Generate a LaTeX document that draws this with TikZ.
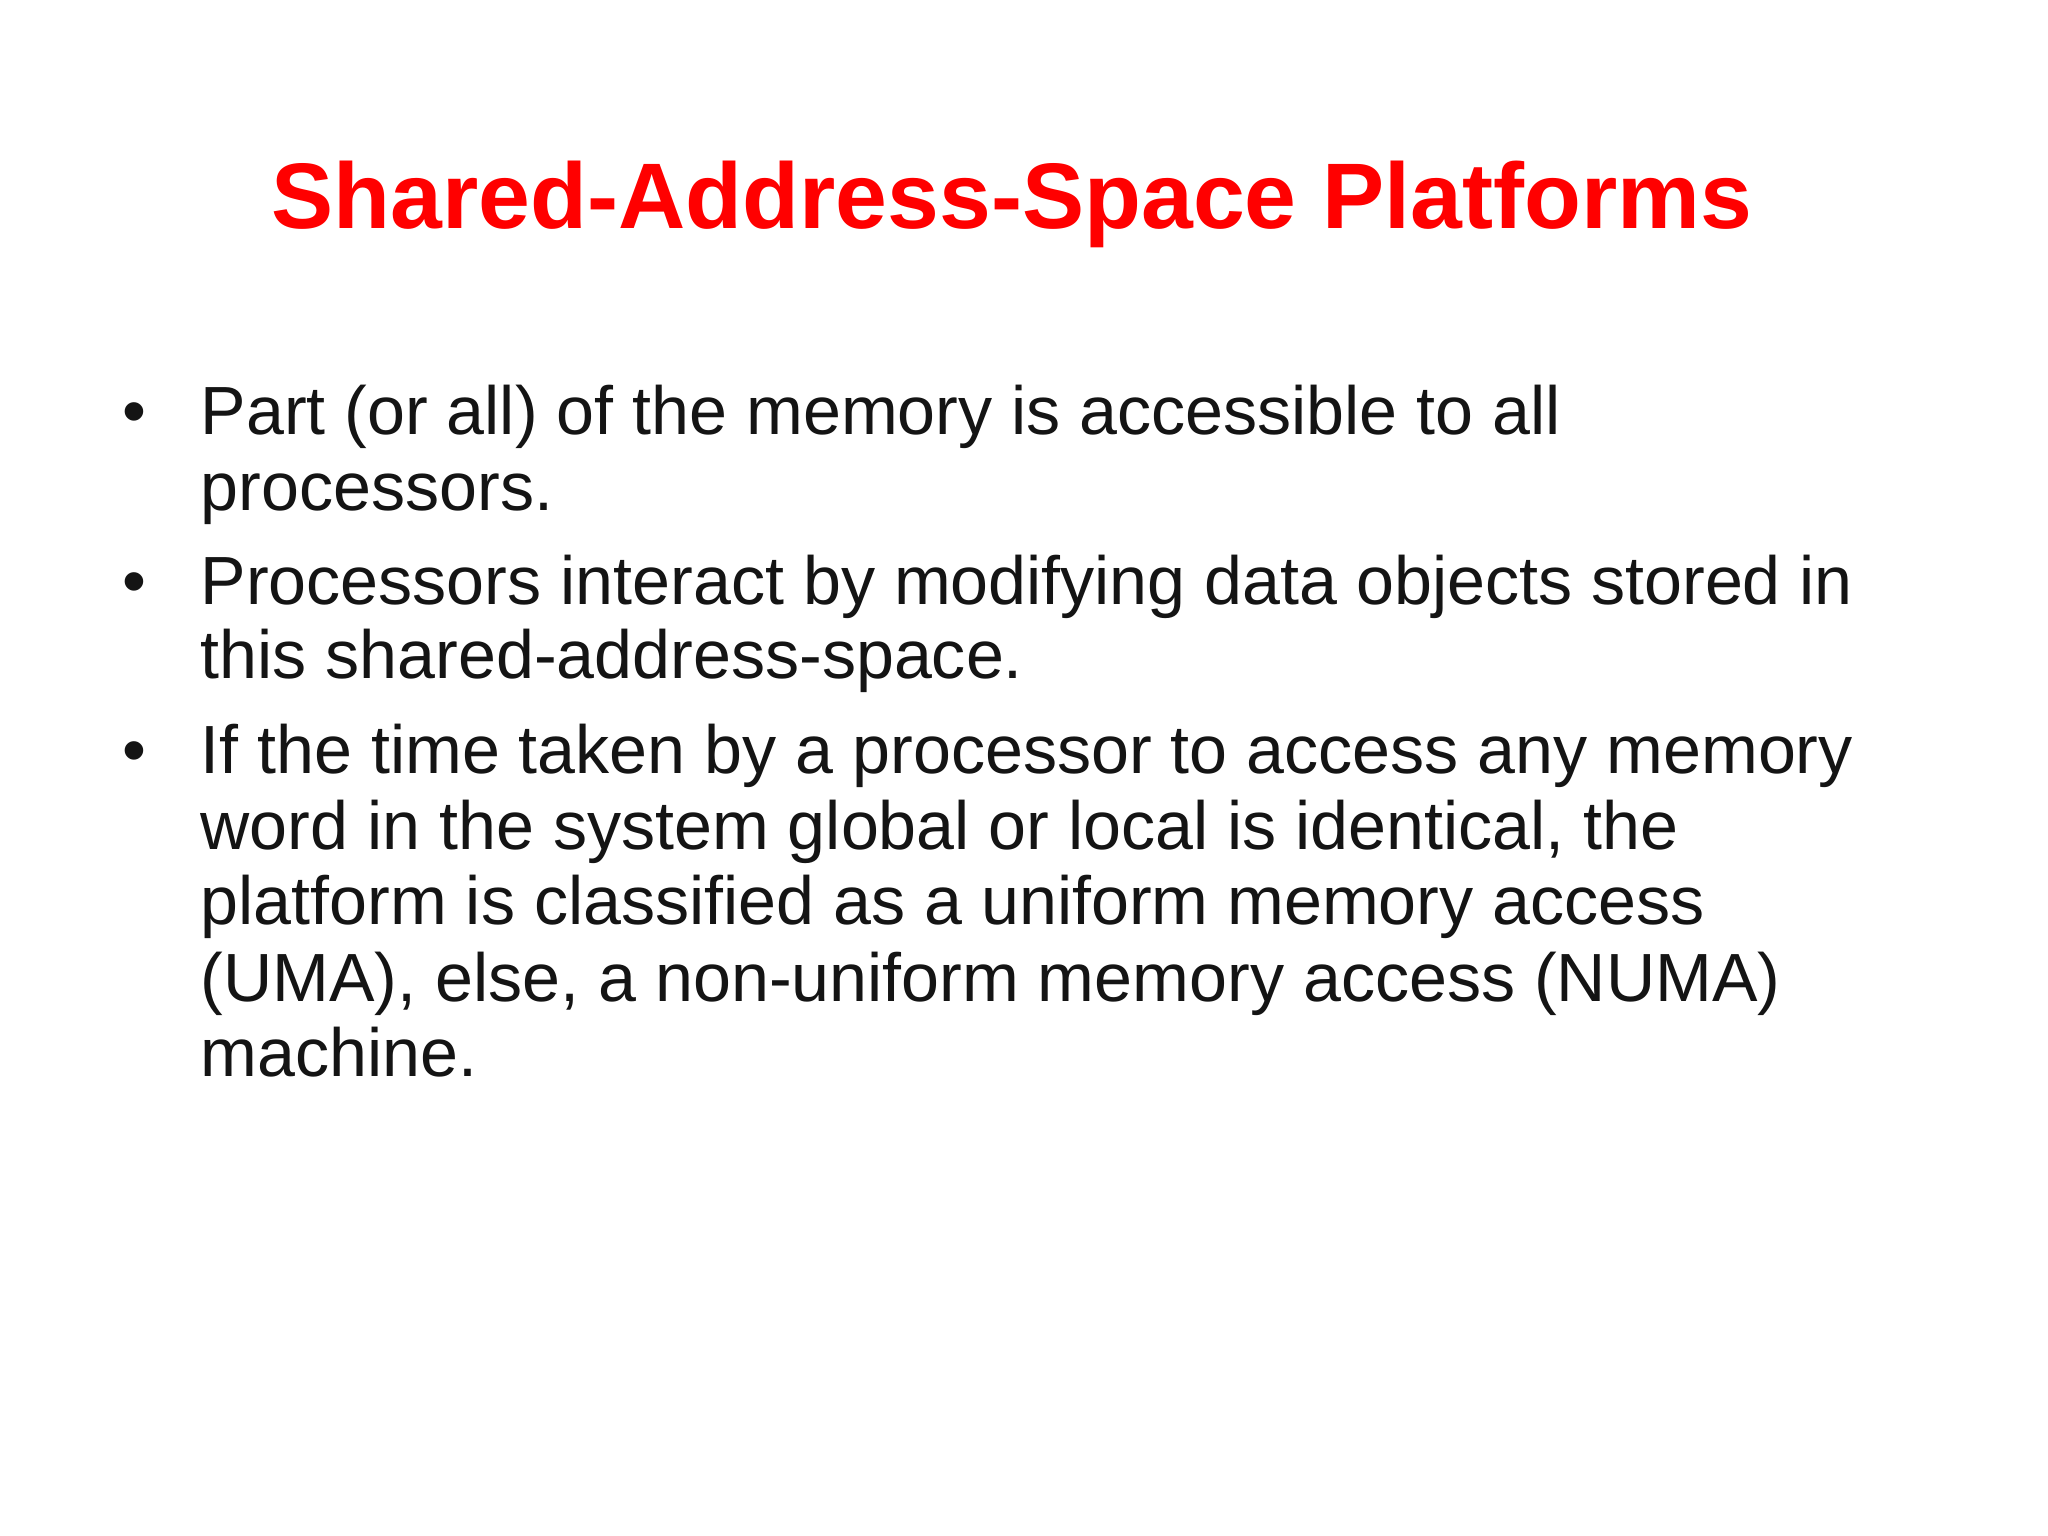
\documentclass[tikz,border=0pt]{standalone}
\usepackage{fontspec}
\setmainfont{Liberation Sans}
\definecolor{titlered}{RGB}{255,0,0}
\definecolor{bodytext}{RGB}{20,20,20}
\begin{document}
\begin{tikzpicture}
\useasboundingbox (0,0) rectangle (20.48,15.36);
\fill[white] (0,0) rectangle (20.48,15.36);
\tikzset{
  bodytxt/.style={anchor=base west, inner sep=0pt, text=bodytext,
    font=\fontsize{19.4pt}{22pt}\selectfont}
}
\node[anchor=base, inner sep=0pt, text=titlered, font=\fontsize{26.5pt}{30pt}\selectfont\bfseries] (title) at (10.12,13.07) {Shared-Address-Space Platforms};
\node[bodytxt] (b1) at (1.22,11.01) {\textbullet};
\node[bodytxt] (t1a) at (2.0,11.01) {Part (or all) of the memory is accessible to all};
\node[bodytxt] (t1b) at (2.0,10.25) {processors.};
\node[bodytxt] (b2) at (1.22,9.31) {\textbullet};
\node[bodytxt] (t2a) at (2.0,9.31) {Processors interact by modifying data objects stored in};
\node[bodytxt] (t2b) at (2.0,8.57) {this shared-address-space.};
\node[bodytxt] (b3) at (1.22,7.62) {\textbullet};
\node[bodytxt] (t3a) at (2.0,7.62) {If the time taken by a processor to access any memory};
\node[bodytxt] (t3b) at (2.0,6.86) {word in the system global or local is identical, the};
\node[bodytxt] (t3c) at (2.0,6.11) {platform is classified as a uniform memory access};
\node[bodytxt] (t3d) at (2.0,5.34) {(UMA), else, a non-uniform memory access (NUMA)};
\node[bodytxt] (t3e) at (2.0,4.59) {machine.};
\end{tikzpicture}
\end{document}
